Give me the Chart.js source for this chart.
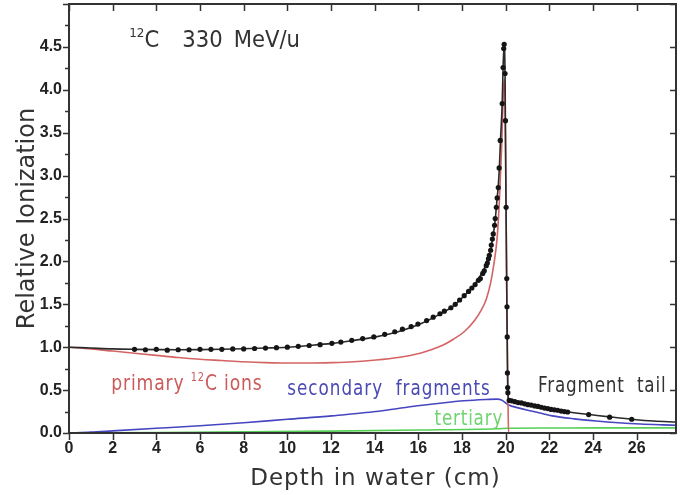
<!DOCTYPE html>
<html>
<head>
<meta charset="utf-8">
<title>Relative Ionization vs Depth</title>
<script src="https://cdn.jsdelivr.net/npm/chart.js@4.4.1/dist/chart.umd.min.js"></script>
<style>
  html, body { margin: 0; padding: 0; background: #fff; }
</style>
</head>
<body>
<canvas id="braggChart" width="680" height="495"></canvas>
<script>
'use strict';
//total ionization curve (cm, relative)
var totalDepth = [0, 1, 2, 3, 4, 5, 6, 7, 8, 9, 10, 11, 12.04, 13.05, 14.06, 15.07, 16.08, 17.09, 17.59, 18.1, 18.6, 18.9, 19.11, 19.31, 19.41, 19.51, 19.61, 19.66, 19.71, 19.76, 19.84, 19.88, 19.93, 19.97, 20.01, 20.06, 20.1, 20.16, 20.62, 21.12, 21.63, 22.13, 22.84, 23.85, 24.86, 25.87, 26.77, 27.8];
var totalIon = [1.0, 0.99, 0.98, 0.975, 0.972, 0.97, 0.972, 0.976, 0.982, 0.99, 1.0, 1.02, 1.045, 1.08, 1.12, 1.18, 1.27, 1.40, 1.48, 1.60, 1.74, 1.86, 1.97, 2.14, 2.28, 2.46, 2.74, 2.88, 3.09, 3.40, 3.84, 4.26, 4.53, 4.19, 2.8, 1.3, 0.47, 0.38, 0.355, 0.325, 0.295, 0.27, 0.245, 0.215, 0.185, 0.158, 0.14, 0.128];

//measured points
var dotDepth = [3.0, 3.5, 4.0, 4.5, 5.0, 5.5, 6.0, 6.5, 7.0, 7.5, 8.0, 8.5, 9.0, 9.5, 10.0, 10.5, 11.0, 11.5, 12.04,
  12.45, 12.95, 13.45, 13.96, 14.46, 14.92, 15.27, 15.67, 15.98, 16.38, 16.68, 16.99, 17.19, 17.49, 17.69, 17.89, 18.1,
  18.3, 18.45, 18.6, 18.75, 18.84, 18.95, 19.02, 19.11, 19.16, 19.21, 19.25, 19.31, 19.34, 19.39, 19.43, 19.49,
  19.52, 19.57, 19.61, 19.66, 19.7, 19.75, 19.84, 19.88, 19.91, 19.93, 19.97, 19.99, 20.02, 20.05, 20.06,
  20.07, 20.08, 20.09, 20.1, 20.16, 20.27, 20.42, 20.57, 20.72, 20.87, 21.02, 21.17, 21.33, 21.48, 21.63, 21.78,
  21.93, 22.08, 22.23, 22.38, 22.54, 22.69, 22.84, 23.8, 24.76, 25.77];
var dotIon = [0.975, 0.97, 0.975, 0.965, 0.97, 0.97, 0.975, 0.975, 0.975, 0.98, 0.98, 0.985, 0.99, 0.995, 1.0, 1.01, 1.02, 1.03, 1.045,
  1.06, 1.08, 1.10, 1.12, 1.15, 1.18, 1.21, 1.24, 1.27, 1.31, 1.35, 1.39, 1.42, 1.46, 1.50, 1.55, 1.60,
  1.65, 1.69, 1.73, 1.78, 1.80, 1.86, 1.89, 1.95, 1.98, 2.03, 2.07, 2.13, 2.19, 2.26, 2.32, 2.42,
  2.50, 2.63, 2.74, 2.86, 3.09, 3.41, 3.84, 4.26, 4.48, 4.53, 4.19, 3.64, 2.63, 1.80, 1.47,
  1.12, 0.70, 0.53, 0.47, 0.38, 0.375, 0.365, 0.355, 0.35, 0.34, 0.33, 0.325, 0.315, 0.31, 0.30, 0.29,
  0.285, 0.275, 0.27, 0.265, 0.255, 0.25, 0.245, 0.215, 0.185, 0.16];

//primary 12C ions
var primaryDepth = [0, 1, 2, 3, 4, 5, 6, 7, 8, 9, 10, 11, 12.04, 13.05, 14.06, 15.07, 16.08, 16.58, 17.09, 17.59, 18.1, 18.6, 18.9, 19.11, 19.31, 19.46, 19.61, 19.71, 19.81, 19.89, 19.93, 19.97, 20.01, 20.06, 20.11, 20.13, 27.8];
var primaryIon = [1.0, 0.98, 0.955, 0.93, 0.905, 0.88, 0.86, 0.845, 0.83, 0.82, 0.815, 0.815, 0.82, 0.83, 0.85, 0.88, 0.93, 0.97, 1.02, 1.09, 1.18, 1.32, 1.44, 1.56, 1.75, 1.97, 2.28, 2.7, 3.3, 3.95, 4.12, 3.9, 2.8, 1.4, 0.3, 0, 0];

//secondary fragments
var secondaryDepth = [0, 1, 2, 4, 6, 8, 10, 12.04, 13.05, 14.06, 15.07, 16.08, 17.09, 18.1, 19.11, 19.61, 19.81, 20.11, 20.62, 21.12, 21.63, 22.13, 23.14, 24.15, 25.16, 26.17, 27.18, 27.8];
var secondaryIon = [0, 0.01, 0.025, 0.055, 0.085, 0.12, 0.16, 0.2, 0.225, 0.25, 0.285, 0.32, 0.35, 0.375, 0.39, 0.395, 0.385, 0.33, 0.29, 0.26, 0.23, 0.2, 0.165, 0.14, 0.12, 0.105, 0.095, 0.09];

//tertiary
var tertiaryDepth = [0, 4, 8, 12, 16, 19.61, 20.11, 22.13, 24.15, 26.17, 27.8];
var tertiaryIon = [0, 0.006, 0.013, 0.022, 0.035, 0.05, 0.055, 0.058, 0.06, 0.06, 0.06];

var xTickStep = 2;
var yTickStep = 0.25;

function toPoints(xs, ys){
  var pts = [];
  for(var i = 0; i < xs.length; i++){
    pts.push({x: xs[i], y: ys[i]});
  }
  return pts;
}

function isMajorY(v){
  return Math.round(v * 100) % 50 === 0;
}

//draws text pieces one after the other, '12' style pieces as superscript
function drawPieces(ctx, pieces, x, y, size, color, sx, spacing){
  ctx.save();
  ctx.translate(x, y);
  ctx.scale(sx, 1);
  ctx.fillStyle = color;
  ctx.textAlign = 'left';
  ctx.textBaseline = 'alphabetic';
  ctx.letterSpacing = spacing + 'px';
  var cx = 0;
  pieces.forEach(function(p){
    if(p.sup){
      ctx.font = Math.round(size * 0.58) + 'px "DejaVu Sans"';
      ctx.fillText(p.t, cx, -size * 0.42);
    } else {
      ctx.font = size + 'px "DejaVu Sans"';
      ctx.fillText(p.t, cx, 0);
    }
    cx += ctx.measureText(p.t).width + (p.gap || 0);
  });
  ctx.restore();
}

var frameAndLabels = {
  id: 'frameAndLabels',
  afterDatasetsDraw: function(chart){
    var ctx = chart.ctx;
    var a = chart.chartArea;
    var xs = chart.scales.x;
    var ys = chart.scales.y;

    ctx.save();
    ctx.strokeStyle = '#333';
    ctx.lineWidth = 1.5;
    ctx.beginPath();
    ys.ticks.forEach(function(t){
      var py = Math.round(ys.getPixelForValue(t.value)) + 0.5;
      var len = isMajorY(t.value) ? 6 : 4;
      ctx.moveTo(a.left - len, py);
      ctx.lineTo(a.left, py);
      if(isMajorY(t.value)){
        ctx.moveTo(a.right, py);
        ctx.lineTo(a.right - 6, py);
      }
    });
    xs.ticks.forEach(function(t){
      var px = Math.round(xs.getPixelForValue(t.value)) + 0.5;
      ctx.moveTo(px, a.bottom);
      ctx.lineTo(px, a.bottom + 7);
      ctx.moveTo(px, a.top);
      ctx.lineTo(px, a.top + 7);
    });
    ctx.stroke();
    ctx.lineWidth = 2;
    ctx.strokeRect(a.left, a.top, a.right - a.left, a.bottom - a.top);
    ctx.restore();

    //axis titles
    ctx.save();
    ctx.fillStyle = '#333';
    ctx.font = '24px "DejaVu Sans"';
    ctx.textAlign = 'center';
    ctx.textBaseline = 'alphabetic';
    ctx.translate(34, (a.top + a.bottom) / 2);
    ctx.rotate(-Math.PI / 2);
    ctx.fillText('Relative Ionization', 0, 0);
    ctx.restore();

    ctx.save();
    ctx.fillStyle = '#333';
    ctx.font = '23px "DejaVu Sans"';
    ctx.letterSpacing = '1px';
    ctx.textAlign = 'center';
    ctx.textBaseline = 'alphabetic';
    ctx.fillText('Depth in water (cm)', (a.left + a.right) / 2 + 3, 485);
    ctx.restore();

    //beam label
    drawPieces(ctx, [{t: '12', sup: true}, {t: 'C', gap: 25}, {t: '330', gap: 12}, {t: 'MeV/u'}],
      xs.getPixelForValue(2.76), ys.getPixelForValue(4.5), 23, '#333', 0.92, 0);

    //curve labels
    drawPieces(ctx, [{t: 'primary '}, {t: '12', sup: true}, {t: 'C ions'}],
      xs.getPixelForValue(1.94), ys.getPixelForValue(0.5), 21, '#cc5a5a', 0.82, 1);
    drawPieces(ctx, [{t: 'secondary  fragments'}],
      xs.getPixelForValue(10.0), ys.getPixelForValue(0.44), 21, '#4a4ab4', 0.8, 1.2);
    drawPieces(ctx, [{t: 'tertiary'}],
      xs.getPixelForValue(16.74), ys.getPixelForValue(0.09), 21, '#6fd46f', 0.8, 1);
    drawPieces(ctx, [{t: 'Fragment  tail'}],
      xs.getPixelForValue(21.48), ys.getPixelForValue(0.48), 21, '#333', 0.8, 1);
  }
};

var ctx = document.getElementById('braggChart');
var braggChart = new Chart(ctx, {
  type: 'scatter',
  data: {
    datasets: [
      {
        label: 'measured',
        data: toPoints(dotDepth, dotIon),
        showLine: false,
        pointRadius: 2.6,
        pointBackgroundColor: '#151515',
        pointBorderWidth: 0
      },
      {
        label: 'total',
        data: toPoints(totalDepth, totalIon),
        showLine: true,
        pointRadius: 0,
        borderColor: '#2a2a2a',
        borderWidth: 1.6,
        cubicInterpolationMode: 'monotone'
      },
      {
        label: 'primary',
        data: toPoints(primaryDepth, primaryIon),
        showLine: true,
        pointRadius: 0,
        borderColor: '#d46464',
        borderWidth: 1.6,
        cubicInterpolationMode: 'monotone'
      },
      {
        label: 'secondary',
        data: toPoints(secondaryDepth, secondaryIon),
        showLine: true,
        pointRadius: 0,
        borderColor: '#4646c0',
        borderWidth: 1.6,
        cubicInterpolationMode: 'monotone'
      },
      {
        label: 'tertiary',
        data: toPoints(tertiaryDepth, tertiaryIon),
        showLine: true,
        pointRadius: 0,
        borderColor: '#55d055',
        borderWidth: 1.6,
        cubicInterpolationMode: 'monotone'
      }
    ]
  },
  options: {
    responsive: false,
    animation: false,
    devicePixelRatio: 1,
    layout: { padding: { top: 2, right: 1, left: 0, bottom: 0 } },
    plugins: {
      legend: { display: false },
      tooltip: { enabled: false }
    },
    scales: {
      x: {
        type: 'linear',
        min: 0,
        max: 27.8,
        grid: { display: false, drawTicks: false },
        border: { display: false },
        ticks: {
          stepSize: xTickStep,
          includeBounds: false,
          autoSkip: false,
          maxRotation: 0,
          padding: 6,
          color: '#222',
          font: { family: 'Liberation Sans', size: 16, weight: 'bold' }
        },
        afterFit: function(scale){
          scale.height = 62;
          scale.paddingLeft = 0;
          scale.paddingRight = 0;
        }
      },
      y: {
        type: 'linear',
        min: 0,
        max: 5,
        grid: { display: false, drawTicks: false },
        border: { display: false },
        ticks: {
          stepSize: yTickStep,
          autoSkip: false,
          padding: 7,
          color: '#222',
          font: { family: 'Liberation Sans', size: 16, weight: 'bold' },
          callback: function(v){
            return (isMajorY(v) && v < 5) ? v.toFixed(1) : '';
          }
        },
        afterFit: function(scale){
          scale.width = 69;
          scale.paddingTop = 0;
          scale.paddingBottom = 0;
        }
      }
    }
  },
  plugins: [frameAndLabels]
});
</script>
</body>
</html>
